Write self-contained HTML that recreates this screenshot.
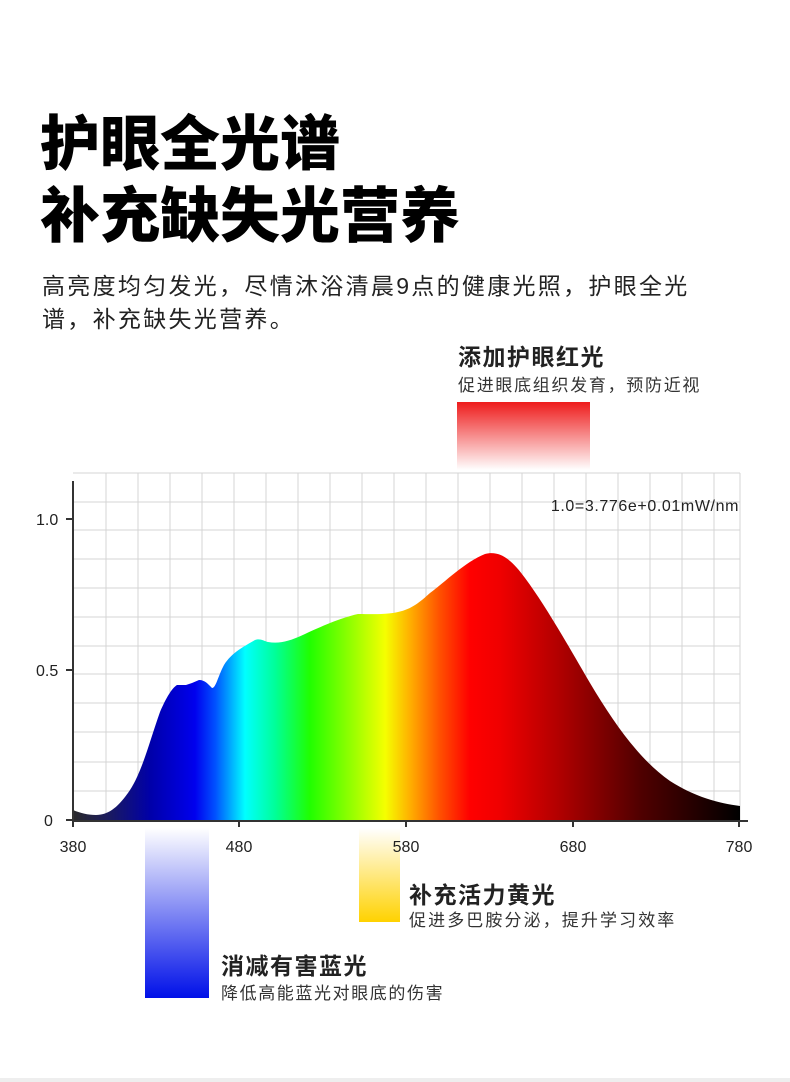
<!DOCTYPE html>
<html><head><meta charset="utf-8"><style>
html,body{margin:0;padding:0;background:#fff;width:790px;height:1082px;overflow:hidden}
body{position:relative;font-family:"Liberation Sans","Noto Sans CJK SC",sans-serif}
.t{position:absolute;white-space:nowrap;color:#111}
</style></head><body>
<div class="t" style="left:40px;top:109px;font-size:60px;font-weight:900;line-height:72px;color:#000">护眼全光谱<br>补充缺失光营养</div>
<div class="t" style="left:42px;top:270px;font-size:23px;letter-spacing:2.3px;line-height:33px;color:#222">高亮度均匀发光，尽情沐浴清晨9点的健康光照，护眼全光<br>谱，补充缺失光营养。</div>
<div class="t" style="left:458px;top:338px;font-size:23px;font-weight:bold;letter-spacing:1.5px;color:#222">添加护眼红光</div>
<div class="t" style="left:458px;top:371px;font-size:17px;letter-spacing:1.7px;color:#333">促进眼底组织发育，预防近视</div>
<div class="t" style="left:409px;top:876px;font-size:23px;font-weight:bold;letter-spacing:1.5px;color:#222">补充活力黄光</div>
<div class="t" style="left:409px;top:906px;font-size:17px;letter-spacing:2.1px;color:#333">促进多巴胺分泌，提升学习效率</div>
<div class="t" style="left:221px;top:947px;font-size:23px;font-weight:bold;letter-spacing:1.5px;color:#222">消减有害蓝光</div>
<div class="t" style="left:221px;top:979px;font-size:17px;letter-spacing:1.6px;color:#333">降低高能蓝光对眼底的伤害</div>
<svg style="position:absolute;left:0;top:0" width="790" height="1082">
<defs>
<linearGradient id="sp" x1="73" y1="0" x2="740" y2="0" gradientUnits="userSpaceOnUse">
<stop offset="0" stop-color="#2a2a2a"/>
<stop offset="0.055" stop-color="#1a1a60"/>
<stop offset="0.115" stop-color="#0000a8"/>
<stop offset="0.183" stop-color="#0000ee"/>
<stop offset="0.213" stop-color="#0050ff"/>
<stop offset="0.258" stop-color="#00ffff"/>
<stop offset="0.303" stop-color="#00ff99"/>
<stop offset="0.355" stop-color="#20ff00"/>
<stop offset="0.415" stop-color="#90ff00"/>
<stop offset="0.468" stop-color="#f5ff00"/>
<stop offset="0.505" stop-color="#ffb000"/>
<stop offset="0.55" stop-color="#ff5000"/>
<stop offset="0.595" stop-color="#ff0000"/>
<stop offset="0.64" stop-color="#f00000"/>
<stop offset="0.73" stop-color="#b00000"/>
<stop offset="0.85" stop-color="#500000"/>
<stop offset="1" stop-color="#000"/>
</linearGradient>
<linearGradient id="rd" x1="0" y1="0" x2="0" y2="1"><stop offset="0" stop-color="#ee1c1c"/><stop offset="1" stop-color="#fff"/></linearGradient>
<linearGradient id="bl" x1="0" y1="0" x2="0" y2="1"><stop offset="0" stop-color="#fff"/><stop offset="1" stop-color="#0010e8"/></linearGradient>
<linearGradient id="yl" x1="0" y1="0" x2="0" y2="1"><stop offset="0" stop-color="#fff"/><stop offset="1" stop-color="#ffd200"/></linearGradient>
</defs>
<rect x="457" y="402" width="133" height="68" fill="url(#rd)"/>
<g stroke="#d4d4d4" stroke-width="1">
<path d="M106 473V820M138 473V820M170 473V820M202 473V820M234 473V820M266 473V820M298 473V820M330 473V820M362 473V820M394 473V820M426 473V820M458 473V820M490 473V820M522 473V820M554 473V820M586 473V820M618 473V820M650 473V820M682 473V820M714 473V820M740 473V820"/>
<path d="M73 473H740M73 502H740M73 530H740M73 559H740M73 588H740M73 617H740M73 646H740M73 674H740M73 703H740M73 732H740M73 762H740M73 791H740"/>
</g>
<path fill="url(#sp)" d="M73 820 L73 810 C80 813 88 815 96 815 C108 815 118 808 130 790 C142 772 150 740 160 712 C166 698 172 688 177 685 L186 685 L192 683 L199 680 C205 680 208 684 212 688 C216 688 218 676 224 665 C232 652 245 646 255 640 C260 638 264 641 268 642 C280 644 290 641 305 634 C320 627 340 618 358 614 C370 614 385 615 398 612 C412 609 420 602 430 593 C445 582 465 562 485 554 C500 550 512 560 525 578 C545 605 565 640 590 683 C615 725 640 760 670 781 C695 797 718 803 740 806 L740 820 Z"/>
<g stroke="#333" stroke-width="2" fill="none">
<path d="M73 481V821H748"/>
<path d="M66 519H73M66 670H73M66 820H73"/>
<path d="M73 820v7M239 820v7M406 820v7M573 820v7M739 820v7"/>
</g>
<rect x="145" y="828" width="64" height="170" fill="url(#bl)"/>
<rect x="359" y="828" width="41" height="94" fill="url(#yl)"/>
<g font-family="Liberation Sans, sans-serif" font-size="16" fill="#222">
<text x="36" y="525">1.0</text><text x="36" y="676">0.5</text><text x="44" y="826">0</text>
<text x="73" y="852" text-anchor="middle">380</text><text x="239" y="852" text-anchor="middle">480</text><text x="406" y="852" text-anchor="middle">580</text><text x="573" y="852" text-anchor="middle">680</text><text x="739" y="852" text-anchor="middle">780</text>
<text x="739" y="511" text-anchor="end" letter-spacing="0.6">1.0=3.776e+0.01mW/nm</text>
</g>
<rect x="0" y="1078" width="790" height="4" fill="#eee"/>
</svg>
</body></html>
